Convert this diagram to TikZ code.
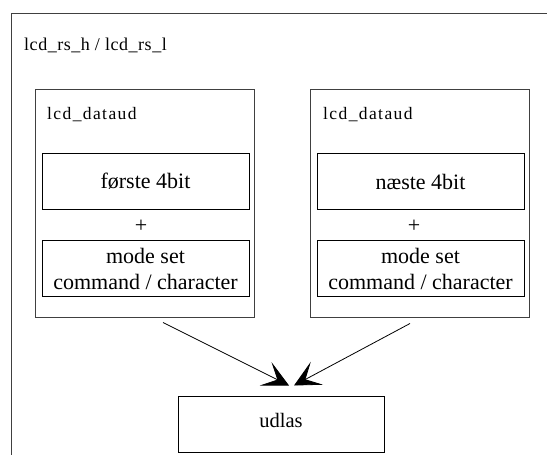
\documentclass[tikz,border=0pt]{standalone}
\usepackage{fontspec}
\setmainfont{Liberation Serif}
\newfontfamily\titlefont[LetterSpace=3]{Liberation Serif}
\newfontfamily\lblfont[LetterSpace=8]{Liberation Serif}
\usetikzlibrary{arrows.meta,calc}
\begin{document}
\begin{tikzpicture}[x=1pt,y=-1pt,
  every node/.style={inner sep=0pt},
  frame/.style={draw=black!75,line width=1pt},
  group/.style={draw=black!75,line width=1pt,rectangle,
    minimum width=219pt,minimum height=228pt},
  part/.style={draw=black,line width=1pt,rectangle,align=center,
    minimum width=207pt,minimum height=56pt,
    font=\fontsize{22}{26}\selectfont},
  outbox/.style={draw=black,line width=1pt,rectangle,
    minimum width=206pt,minimum height=56pt,
    text height=14pt,text depth=8pt,
    font=\fontsize{20.5}{24}\selectfont},
  sublbl/.style={anchor=base west,font=\lblfont\fontsize{17.5}{20}\selectfont},
  plus/.style={font=\fontsize{22}{26}\selectfont},
  flow/.style={line width=0.8pt,
    -{Stealth[length=26pt,width=26pt,inset=13pt]}}]
\useasboundingbox (0,0) rectangle (547,455);
\begin{scope}
  \clip (0,0) rectangle (547,455);
  \draw[frame] (11,13) rectangle (600,500);
\end{scope}
\node[anchor=base west,font=\titlefont\fontsize{18}{21}\selectfont] (title)
  at (24,50) {lcd\_rs\_h / lcd\_rs\_l};

% left data group
\node[group] (gl) at (144.5,203) {};
\node[sublbl] (gllbl) at (47,119) {lcd\_dataud};
\node[part] (gl1) at (145.5,181.5) {første 4bit};
\node[plus] (glp) at (141,226) {+};
\node[part] (gl2) at (145.5,268.5) {mode set\\command / character};

% right data group
\node[group] (gr) at (420,203) {};
\node[sublbl] (grlbl) at (323,119) {lcd\_dataud};
\node[part] (gr1) at (420.5,181.5) {næste 4bit};
\node[plus] (grp) at (414,226) {+};
\node[part] (gr2) at (420.5,268.5) {mode set\\command / character};

% output
\node[outbox] (ud) at (281,424) {udlas};

\coordinate (ls) at ([shift={(18.5,5)}]gl.south);
\coordinate (le) at ([shift={(8,-10)}]ud.north);
\coordinate (rs) at ([shift={(-10,6)}]gr.south);
\coordinate (re) at ([shift={(13,-10)}]ud.north);
\draw[flow] (ls) -- (le);
\draw[flow] (rs) -- (re);
\end{tikzpicture}
\end{document}
